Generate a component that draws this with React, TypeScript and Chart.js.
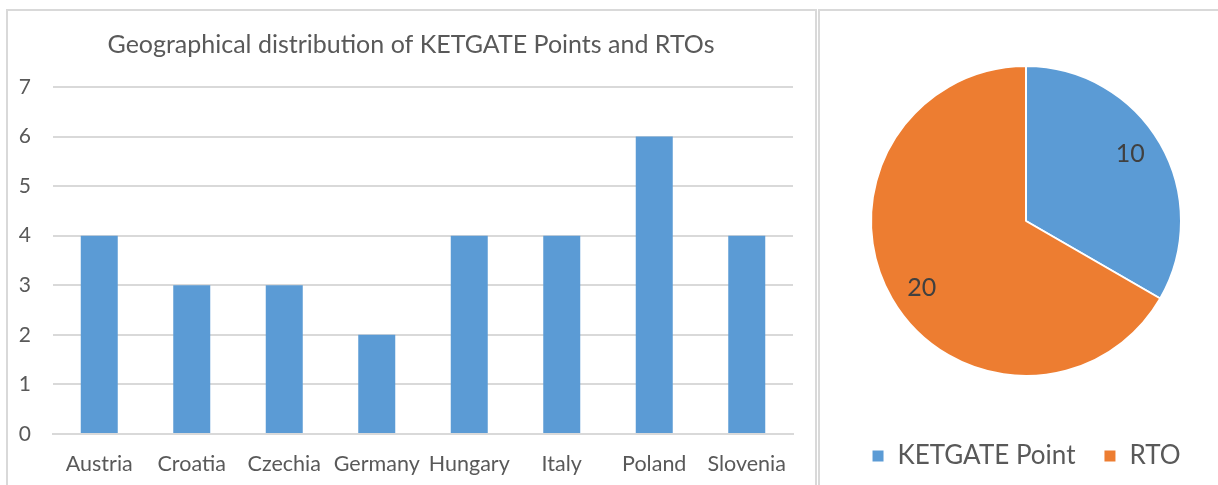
import React, { useEffect, useRef } from "react";
import { Chart, registerables } from "chart.js";

Chart.register(...registerables);

const title = "Geographical distribution of KETGATE Points and RTOs";
const countries = ["Austria", "Croatia", "Czechia", "Germany", "Hungary", "Italy", "Poland", "Slovenia"];
const pointCounts = [4, 3, 3, 2, 4, 4, 6, 4];
const yMax = 7;
const pieLabels = ["KETGATE Point", "RTO"];
const pieValues = [10, 20];

const BLUE = "#5B9BD5";
const ORANGE = "#ED7D31";
const TEXT = "#595959";
const GRID = "#D9D9D9";
const FONT = "Lato, 'Open Sans', sans-serif";

const pieLabelPlugin = {
  id: "pieValueLabels",
  afterDatasetsDraw(chart: any) {
    const meta = chart.getDatasetMeta(0);
    const ctx = chart.ctx;
    ctx.save();
    ctx.font = `25px ${FONT}`;
    ctx.fillStyle = "#404040";
    ctx.textAlign = "center";
    ctx.textBaseline = "middle";
    meta.data.forEach((arc: any, i: number) => {
      const p = arc.getProps(["x", "y", "startAngle", "endAngle", "outerRadius"], true);
      const mid = (p.startAngle + p.endAngle) / 2 - 0.05;
      const r = p.outerRadius * 0.8;
      ctx.fillText(String(chart.data.datasets[0].data[i]), p.x + Math.cos(mid) * r, p.y + Math.sin(mid) * r);
    });
    ctx.restore();
  },
};

export default function App() {
  const barRef = useRef<HTMLCanvasElement>(null);
  const pieRef = useRef<HTMLCanvasElement>(null);

  useEffect(() => {
    const bar = new Chart(barRef.current!, {
      type: "bar",
      data: {
        labels: countries,
        datasets: [
          {
            label: "KETGATE Points",
            data: pointCounts,
            backgroundColor: BLUE,
            categoryPercentage: 1,
            barPercentage: 0.4,
          },
        ],
      },
      options: {
        animation: false,
        responsive: false,
        maintainAspectRatio: false,
        layout: { padding: { top: 0, left: 0, right: 0, bottom: 0 } },
        plugins: {
          legend: { display: false },
          tooltip: { enabled: false },
          title: {
            display: true,
            text: title,
            color: TEXT,
            font: { family: FONT, size: 25, weight: "normal" },
            padding: { top: 19, bottom: 27 },
          },
        },
        scales: {
          x: {
            grid: { display: false, drawTicks: false },
            border: { display: true, color: GRID, width: 2 },
            ticks: { color: TEXT, font: { family: FONT, size: 21.5 }, padding: 17, maxRotation: 0, autoSkip: false },
            afterFit: (s: any) => {
              s.height = 51;
            },
          },
          y: {
            min: 0,
            max: yMax,
            grid: { color: GRID, lineWidth: 2, drawTicks: false },
            border: { display: false },
            ticks: { stepSize: 1, color: TEXT, font: { family: FONT, size: 21 }, padding: 22 },
            afterFit: (s: any) => {
              s.width = 45;
            },
          },
          yRightSpace: {
            type: "linear",
            position: "right",
            display: true,
            grid: { display: false, drawTicks: false },
            border: { display: false },
            ticks: { display: false },
            afterFit: (s: any) => {
              s.width = 21;
            },
          },
        },
      },
    });

    const pie = new Chart(pieRef.current!, {
      type: "pie",
      data: {
        labels: pieLabels,
        datasets: [
          {
            data: pieValues,
            backgroundColor: [BLUE, ORANGE],
            borderColor: "#FFFFFF",
            borderWidth: 2,
            radius: 155,
          },
        ],
      },
      options: {
        animation: false,
        responsive: false,
        maintainAspectRatio: false,
        layout: { padding: { top: 16, left: 14, right: 0, bottom: 0 } },
        plugins: {
          tooltip: { enabled: false },
          legend: {
            position: "bottom",
            labels: {
              color: TEXT,
              font: { family: FONT, size: 26 },
              boxWidth: 13,
              boxHeight: 13,
              padding: 28,
            },
          },
        },
      },
      plugins: [pieLabelPlugin],
    });

    return () => {
      bar.destroy();
      pie.destroy();
    };
  }, []);

  return (
    <div
      style={{
        position: "absolute",
        left: 0,
        top: 0,
        width: 1218,
        height: 485,
        overflow: "hidden",
        background: "#FFFFFF",
      }}
    >
      <div
        style={{
          position: "absolute",
          left: 6,
          top: 9,
          width: 811,
          height: 520,
          border: `2px solid ${GRID}`,
          boxSizing: "border-box",
        }}
      />
      <div
        style={{
          position: "absolute",
          left: 818,
          top: 9,
          width: 420,
          height: 520,
          border: `2px solid ${GRID}`,
          boxSizing: "border-box",
        }}
      />
      <canvas
        ref={barRef}
        width={806}
        height={474}
        style={{ position: "absolute", left: 8, top: 11, width: 806, height: 474 }}
      />
      <canvas
        ref={pieRef}
        width={398}
        height={468}
        style={{ position: "absolute", left: 820, top: 11, width: 398, height: 468 }}
      />
    </div>
  );
}
